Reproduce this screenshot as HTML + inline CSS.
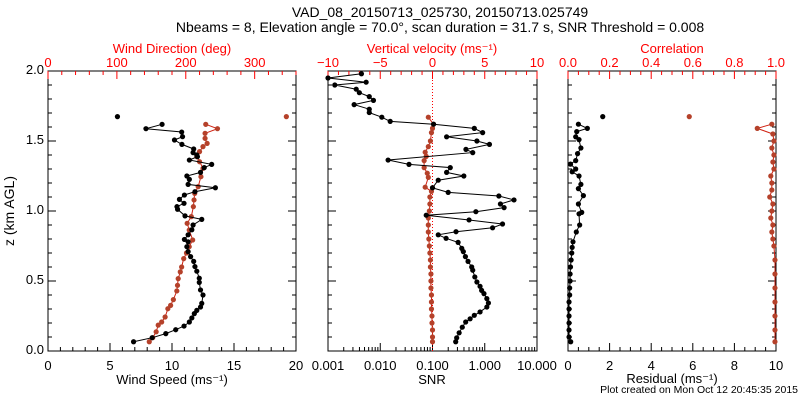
<!DOCTYPE html>
<html><head><meta charset="utf-8"><style>
body{margin:0;background:#fff}
svg{display:block;font-family:"Liberation Sans",sans-serif}
</style></head><body>
<svg id="chart" width="800" height="400" viewBox="0 0 800 400" xmlns="http://www.w3.org/2000/svg">
<rect width="800" height="400" fill="#fff"/>
<text x="440" y="17" font-size="14" text-anchor="middle">VAD_08_20150713_025730, 20150713.025749</text>
<text x="440" y="32" font-size="14" text-anchor="middle">Nbeams = 8, Elevation angle = 70.0°, scan duration = 31.7 s, SNR Threshold = 0.008</text>
<text transform="translate(14,211) rotate(-90)" font-size="14" text-anchor="middle">z (km AGL)</text>
<text x="798" y="393" font-size="10.5" text-anchor="end">Plot created on Mon Oct 12 20:45:35 2015</text>
<g id="g"></g>
</svg>
<script>
// ---- data ----
const speedZ=[0.066,0.095,0.124,0.152,0.178,0.207,0.236,0.267,0.29,0.314,0.34,0.4,0.436,0.49,0.52,0.57,0.603,0.64,0.674,0.71,0.745,0.78,0.797,0.83,0.866,0.9,0.94,0.965,1.012,1.031,1.055,1.083,1.114,1.138,1.166,1.19,1.226,1.25,1.276,1.31,1.333,1.364,1.388,1.4,1.417,1.443,1.476,1.507,1.531,1.564,1.588,1.619];
const speedVals=[6.9,8.4,9.5,10.3,10.97,11.4,11.6,11.8,12.0,12.3,12.4,12.5,12.3,12.2,12.2,12.0,11.85,11.75,11.5,11.3,11.2,11.3,11.0,11.3,11.6,11.7,12.4,11.05,10.45,10.4,10.97,10.6,11.0,11.85,13.5,11.3,11.4,11.2,12.3,12.6,13.2,11.4,12.05,12.0,11.7,11.75,10.8,10.2,10.85,10.78,7.9,9.2];
const speedOutlier=[1.674,5.6];
const dirZ=[0.066,0.095,0.137,0.185,0.207,0.243,0.302,0.326,0.367,0.429,0.469,0.517,0.565,0.6,0.66,0.7,0.745,0.793,0.864,0.912,0.96,1.031,1.079,1.126,1.174,1.245,1.305,1.352,1.388,1.424,1.46,1.483,1.519,1.555,1.588,1.619];
const dirVals=[147,152,157,160,165,170,174,178,182,187,188,189,192,194,197,201,205,210,205,202,208,211,212,213,218,222,225,220,216,220,225,231,228,228,246,229];
const dirOutlier=[1.674,346];
const snrZ=[0.066,0.094,0.13,0.17,0.207,0.23,0.255,0.279,0.314,0.343,0.374,0.41,0.433,0.462,0.493,0.529,0.577,0.6,0.64,0.674,0.71,0.733,0.776,0.805,0.83,0.852,0.88,0.907,0.936,0.97,0.995,1.024,1.05,1.079,1.107,1.133,1.166,1.22,1.25,1.276,1.31,1.333,1.364,1.417,1.44,1.476,1.5,1.53,1.56,1.59,1.62,1.64,1.67,1.703,1.727,1.76,1.79,1.817,1.845,1.87,1.9,1.92,1.95,1.98];
const snrLog=[-0.556,-0.537,-0.49,-0.43,-0.365,-0.28,-0.2,-0.09,0.04,0.07,0.04,-0.015,-0.06,-0.09,-0.15,-0.19,-0.23,-0.25,-0.32,-0.37,-0.41,-0.44,-0.51,-0.74,-0.89,-0.55,0.15,0.34,-0.3,-1.12,-0.17,0.37,0.3,0.56,0.27,-0.7,-1.0,-0.89,-0.4,-0.73,-0.66,-1.45,-1.85,-0.23,-0.36,0.09,-0.15,-0.73,-0.04,-0.2,-0.98,-1.81,-1.97,-2.21,-2.21,-2.5,-2.13,-2.21,-2.4,-2.46,-2.87,-2.27,-3.0,-2.36];
const wZ=[0.066,0.1,0.15,0.2,0.25,0.3,0.35,0.4,0.45,0.5,0.55,0.6,0.65,0.7,0.75,0.8,0.85,0.9,0.95,1.0,1.05,1.1,1.14,1.17,1.24,1.27,1.31,1.36,1.39,1.42,1.46,1.5,1.56,1.59,1.62,1.67];
const wVals=[0.0,0.0,0.0,-0.05,-0.05,-0.1,-0.1,-0.1,-0.15,-0.15,-0.15,-0.2,-0.2,-0.25,-0.3,-0.35,-0.4,-0.4,-0.4,-0.3,-0.25,-0.25,-0.1,-0.7,-0.4,-0.5,-0.8,-0.8,-0.6,-0.7,-0.4,-0.2,-0.1,0.0,0.1,-0.4];
const resZ=[0.066,0.1,0.15,0.2,0.25,0.3,0.35,0.4,0.45,0.5,0.55,0.6,0.65,0.7,0.74,0.78,0.85,0.9,0.98,0.99,1.05,1.11,1.16,1.19,1.25,1.28,1.3,1.335,1.36,1.41,1.45,1.51,1.53,1.567,1.59,1.62];
const resVals=[0.13,0.05,0.05,0.05,0.05,0.05,0.05,0.08,0.08,0.1,0.1,0.12,0.15,0.18,0.2,0.24,0.4,0.56,0.53,0.66,0.5,0.74,0.5,0.62,0.53,0.2,0.37,0.12,0.37,0.46,0.62,0.53,0.37,0.42,0.93,0.5];
const resOutlier=[1.674,1.67];
const corZ=[0.066,0.15,0.25,0.35,0.45,0.55,0.65,0.75,0.8,0.85,0.9,0.95,1.0,1.05,1.1,1.15,1.2,1.25,1.3,1.35,1.4,1.45,1.5,1.55,1.59,1.62];
const corVals=[0.995,0.995,0.995,0.995,0.995,0.995,0.995,0.99,0.985,0.98,0.985,0.975,0.98,0.985,0.97,0.98,0.98,0.975,0.99,0.985,0.99,0.98,0.99,0.985,0.91,0.98];
const corOutlier=[1.674,0.583];
const speedTicks=[0,5,10,15,20], dirTicks=[0,100,200,300], wTicks=[-10,-5,0,5,10];
const snrTickLabels=["0.001","0.010","0.100","1.000","10.000"];
const corTicks=["0.0","0.2","0.4","0.6","0.8","1.0"], resTicks=[0,2,4,6,8,10];
const zTicks=["0.0","0.5","1.0","1.5","2.0"];
// ---- drawing ----
const NS="http://www.w3.org/2000/svg", G=document.getElementById('g');
const RED="#ff0000", DR="#b5412a";
const Y0=351,Y1=71, yS=z=>Y0-(z/2)*(Y0-Y1);
function el(t,a,p){const e=document.createElementNS(NS,t);for(const k in a)e.setAttribute(k,a[k]);(p||G).appendChild(e);return e;}
function txt(x,y,s,c,sz,anc){const e=el('text',{x:x,y:y,'font-size':sz||13,fill:c||'#000','text-anchor':anc||'middle'});e.textContent=s;return e;}
function panel(x0,x1,name){
  const b=el('rect',{x:x0,y:Y1,width:x1-x0,height:Y0-Y1,fill:'none',stroke:'#000','stroke-width':1});
  
  
  for(let i=0;i<=20;i++){const y=yS(i*0.1),L=i%5==0?8:4;
    el('line',{x1:x0,x2:x0+L,y1:y,y2:y,stroke:'#000'});el('line',{x1:x1,x2:x1-L,y1:y,y2:y,stroke:'#000'});}
}
function linTicks(x0,x1,lo,hi,minor,major,top,col){
  const n=Math.round((hi-lo)/minor);
  for(let i=0;i<=n;i++){const v=lo+i*minor,x=x0+(v-lo)/(hi-lo)*(x1-x0);
    const L=Math.abs(v/major-Math.round(v/major))<1e-6?8:4;
    if(top) el('line',{x1:x,x2:x,y1:Y1,y2:Y1+L,stroke:col});else el('line',{x1:x,x2:x,y1:Y0,y2:Y0-L,stroke:col});}
}
function series(zs,vs,xf,lineC,markC,name){
  const pts=zs.map((z,i)=>xf(vs[i]).toFixed(1)+','+yS(z).toFixed(1)).join(' ');
  const pl=el('polyline',{points:pts,fill:'none',stroke:lineC,'stroke-width':1});
  
  
  zs.forEach((z,i)=>{const c=el('circle',{cx:xf(vs[i]),cy:yS(z),r:2.6,fill:markC});
    
    });
}
function pt(z,x,c,name){const e=el('circle',{cx:x,cy:yS(z),r:2.6,fill:c});
  
  }
// y labels
zTicks.forEach(s=>{const t=txt(44,yS(parseFloat(s))+3,s,'#000',13,'end');
  
  });
// panel 1
const A0=48,A1=296,sX=v=>A0+v/20*(A1-A0),dX=v=>A0+v/360*(A1-A0);
panel(A0,A1,'wind-panel');linTicks(A0,A1,0,20,1,5,false,'#000');linTicks(A0,A1,0,360,20,100,true,RED);
speedTicks.forEach(v=>txt(sX(v),370,String(v)));dirTicks.forEach(v=>txt(dX(v),67,String(v),RED));
txt(172,384,'Wind Speed (ms\u207B\u00B9)');txt(172,53,'Wind Direction (deg)',RED);
series(dirZ,dirVals,dX,'#d02010',DR,'wind-direction');series(speedZ,speedVals,sX,'#000','#000','wind-speed');
pt(speedOutlier[0],sX(speedOutlier[1]),'#000','wind-speed-outlier');pt(dirOutlier[0],dX(dirOutlier[1]),DR,'wind-direction-outlier');
// panel 2
const B0=328,B1=537,lX=v=>B0+(v+3)/4*(B1-B0),wX=v=>B0+(v+10)/20*(B1-B0);
panel(B0,B1,'snr-panel');linTicks(B0,B1,-10,10,1,5,true,RED);
for(let d=-3;d<1;d++)for(let m=1;m<10;m++){const x=lX(d+Math.log10(m));el('line',{x1:x,x2:x,y1:Y0,y2:Y0-(m==1?8:4),stroke:'#000'});}
el('line',{x1:B1,x2:B1,y1:Y0,y2:Y0-8,stroke:'#000'});
snrTickLabels.forEach((s,i)=>txt(lX(i-3),370,s));wTicks.forEach(v=>txt(wX(v),67,String(v).replace('-','\u2212'),RED));
txt(432,384,'SNR');txt(432,53,'Vertical velocity (ms\u207B\u00B9)',RED);
el('line',{x1:wX(0),x2:wX(0),y1:Y1,y2:Y0,stroke:RED,'stroke-dasharray':'1,2'});
series(wZ,wVals,wX,'#d02010',DR,'vertical-velocity');
series(snrZ,snrLog,lX,'#000','#000','snr');
// panel 3
const C0=568,C1=776,rX=v=>C0+v/10*(C1-C0),cX=v=>C0+v*(C1-C0);
panel(C0,C1,'residual-panel');linTicks(C0,C1,0,10,0.5,2,false,'#000');linTicks(C0,C1,0,1,0.05,0.2,true,RED);
resTicks.forEach(v=>txt(rX(v),370,String(v)));corTicks.forEach(s=>txt(cX(parseFloat(s)),67,s,RED));
txt(672,383,'Residual (ms\u207B\u00B9)');txt(672,53,'Correlation',RED);
series(corZ,corVals,cX,'#d02010',DR,'correlation');series(resZ,resVals,rX,'#000','#000','residual');
pt(resOutlier[0],rX(resOutlier[1]),'#000','residual-outlier');pt(corOutlier[0],cX(corOutlier[1]),DR,'correlation-outlier');
</script>
</body></html>
